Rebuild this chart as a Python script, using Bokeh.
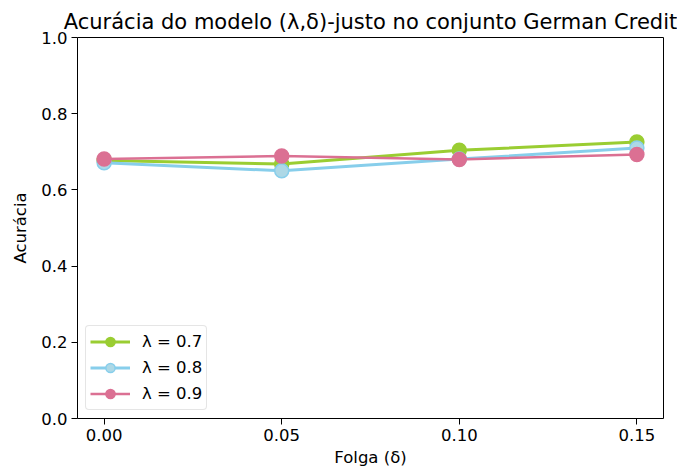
from bokeh.plotting import figure
from bokeh.models import Range1d, FixedTicker, Legend, LegendItem, CustomJSTickFormatter
from bokeh.embed import file_html
from bokeh.resources import INLINE

folga = [0.00, 0.05, 0.10, 0.15]
acc_l07 = [0.677, 0.668, 0.704, 0.726]
acc_l08 = [0.671, 0.650, 0.681, 0.710]
acc_l09 = [0.681, 0.689, 0.680, 0.693]
labels = ["λ = 0.7", "λ = 0.8", "λ = 0.9"]
x_ticks = [0.00, 0.05, 0.10, 0.15]
y_ticks = [0.0, 0.2, 0.4, 0.6, 0.8, 1.0]

FONT = "DejaVu Sans"

p = figure(width=677, height=469, output_backend="svg", toolbar_location=None,
           x_range=Range1d(-0.0075, 0.1575), y_range=Range1d(0, 1),
           min_border_left=77, min_border_right=14, min_border_top=37, min_border_bottom=51)

p.title.text = "Acurácia do modelo (λ,δ)-justo no conjunto German Credit"
p.title.text_font = FONT
p.title.text_font_size = "21px"
p.title.text_font_style = "normal"
p.title.align = "center"
p.title.text_color = "black"
p.title.standoff = 7

p.xgrid.visible = False
p.ygrid.visible = False
p.outline_line_color = "black"
p.outline_line_width = 1
p.background_fill_color = "white"
p.border_fill_color = "white"

for ax in (p.xaxis[0], p.yaxis[0]):
    ax.axis_line_color = None
    ax.major_tick_line_color = "black"
    ax.major_tick_out = 6
    ax.major_tick_in = 0
    ax.minor_tick_line_color = None
    ax.major_label_text_font = FONT
    ax.major_label_text_font_size = "16.5px"
    ax.major_label_text_color = "black"
    ax.major_label_standoff = 4
    ax.axis_label_text_font = FONT
    ax.axis_label_text_font_size = "16.5px"
    ax.axis_label_text_font_style = "normal"
    ax.axis_label_text_color = "black"

p.xaxis.ticker = FixedTicker(ticks=x_ticks)
p.yaxis.ticker = FixedTicker(ticks=y_ticks)
p.xaxis.formatter = CustomJSTickFormatter(code="return tick.toFixed(2);")
p.yaxis.formatter = CustomJSTickFormatter(code="return tick.toFixed(1);")
p.xaxis.axis_label = "Folga (δ)"
p.yaxis.axis_label = "Acurácia"
p.xaxis.axis_label_standoff = 4
p.yaxis.axis_label_standoff = 8

series = [
    (acc_l07, "#9ACD32", "#9ACD32", "#9ACD32", 3),
    (acc_l08, "#87CEEB", "#ADD8E6", "#87CEEB", 3),
    (acc_l09, "#DB7093", "#DB7093", "#DB7093", 2.5),
]
items = []
for (vals, lc, fc, ec, lw), lab in zip(series, labels):
    r1 = p.line(folga, vals, line_color=lc, line_width=lw)
    r2 = p.scatter(folga, vals, size=14, fill_color=fc, line_color=ec, line_width=1.5)
    items.append(LegendItem(label=lab, renderers=[r1, r2]))

legend = Legend(items=items, location="bottom_left")
legend.label_text_font = FONT
legend.label_text_font_size = "16.5px"
legend.label_text_color = "black"
legend.border_line_color = "#cccccc"
legend.border_line_width = 1
legend.border_radius = 4
legend.background_fill_alpha = 0.8
legend.glyph_width = 40
legend.glyph_height = 23
legend.spacing = 3
legend.padding = 4
legend.margin = 8
legend.label_standoff = 12
p.add_layout(legend)

open("out.html", "w").write(file_html(p, INLINE))
